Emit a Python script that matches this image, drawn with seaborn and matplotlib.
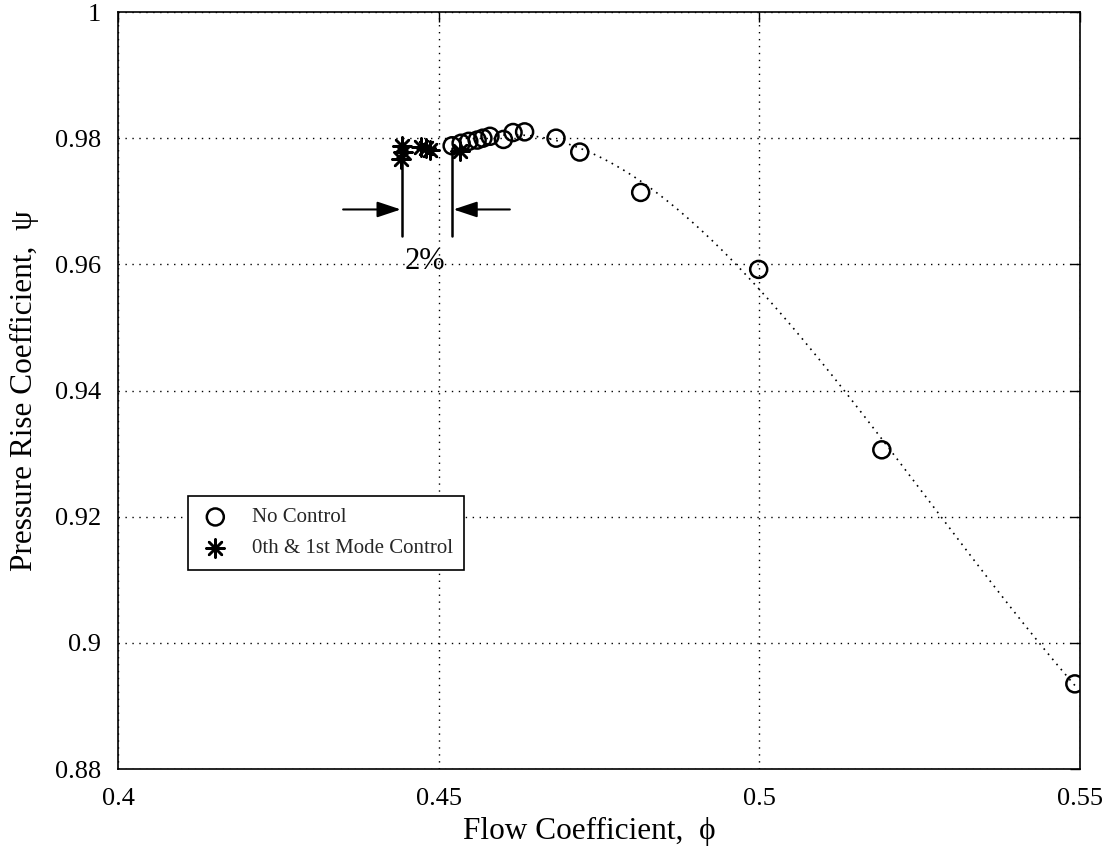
import numpy as np
import pandas as pd
import seaborn as sns
import matplotlib
matplotlib.use("Agg")
import matplotlib.pyplot as plt

# ---- data ----
nc_phi = [0.4521, 0.4535, 0.4547, 0.4560, 0.4569, 0.4580, 0.4601, 0.4616, 0.4634,
          0.4683, 0.4720, 0.4815, 0.4999, 0.5191, 0.5492]
nc_psi = [0.9788, 0.9792, 0.9795, 0.9797, 0.9800, 0.9803, 0.9798, 0.9809, 0.9810,
          0.9800, 0.9778, 0.9714, 0.9592, 0.9306, 0.8935]
mc_phi = [0.4443, 0.4445, 0.4442, 0.4473, 0.4480, 0.4487, 0.4533]
mc_psi = [0.9787, 0.9778, 0.9767, 0.9786, 0.9784, 0.9781, 0.9779]

sns.set_theme(style="white")
plt.rcParams['font.family'] = ['Liberation Serif', 'DejaVu Serif']

fig = plt.figure(figsize=(11.07, 8.58), dpi=100)
ax = fig.add_axes([0.1066, 0.1037, 0.8690, 0.8823])

df_nc = pd.DataFrame({"phi": nc_phi, "psi": nc_psi})
df_mc = pd.DataFrame({"phi": mc_phi, "psi": mc_psi})

coef = np.polyfit(nc_phi, nc_psi, 3)
xf = np.linspace(0.457, 0.5495, 200)
df_fit = pd.DataFrame({"phi": xf, "psi": np.polyval(coef, xf)})
sns.lineplot(data=df_fit, x="phi", y="psi", ax=ax, color="black",
             linestyle=(0, (1, 3)), linewidth=1.2, legend=False)

sns.scatterplot(data=df_nc, x="phi", y="psi", ax=ax, marker="o", s=150,
                facecolor="none", edgecolor="black", linewidth=1.8,
                label="No Control", zorder=3)
sns.scatterplot(data=df_mc, x="phi", y="psi", ax=ax, marker=(8, 2, 0), s=170,
                color="black", edgecolor="black", linewidth=1.8,
                label="0th & 1st Mode Control", zorder=3)

ax.set_xlim(0.4, 0.55)
ax.set_ylim(0.88, 1.0)
ax.set_xticks([0.4, 0.45, 0.5, 0.55])
ax.set_xticklabels(["0.4", "0.45", "0.5", "0.55"])
ax.set_yticks([0.88, 0.9, 0.92, 0.94, 0.96, 0.98, 1.0])
ax.set_yticklabels(["0.88", "0.9", "0.92", "0.94", "0.96", "0.98", "1"])
ax.tick_params(direction="in", length=7, width=1, top=True, right=True,
               labelsize=19, colors="black")
ax.tick_params(axis="x", pad=14)
ax.tick_params(axis="y", pad=12)
ax.grid(True, color="black", linestyle=(0, (1, 4)), linewidth=1.0)
for s in ax.spines.values():
    s.set_color("black")
    s.set_linewidth(1.2)

ax.set_xlabel("Flow Coefficient,  ϕ", fontsize=22.5, color="black")
ax.set_ylabel("Pressure Rise Coefficient,  ψ", fontsize=22.5, color="black")
ax.xaxis.set_label_coords(0.49, -0.064)
ax.yaxis.set_label_coords(-0.082, 0.5)

# 2% annotation
for xv in [0.4443, 0.4521]:
    ax.plot([xv, xv], [0.9785, 0.9645], color="black", linewidth=1.8)
ax.annotate("", xy=(0.4441, 0.9687), xytext=(0.4351, 0.9687),
            arrowprops=dict(arrowstyle="-|>,head_length=1.2,head_width=0.4",
                            color="black", lw=1.5, shrinkA=0, shrinkB=0))
ax.annotate("", xy=(0.4523, 0.9687), xytext=(0.4611, 0.9687),
            arrowprops=dict(arrowstyle="-|>,head_length=1.2,head_width=0.4",
                            color="black", lw=1.5, shrinkA=0, shrinkB=0))
ax.text(0.4479, 0.9605, "2%", fontsize=22, ha="center", va="center", color="black")

leg = ax.legend(loc="lower left", bbox_to_anchor=(0.073, 0.263), fontsize=15,
                frameon=True, fancybox=False, edgecolor="black", framealpha=1,
                borderpad=0.55, labelspacing=0.55, handletextpad=1.0,
                handlelength=1.5, borderaxespad=0)
leg.get_frame().set_linewidth(1.2)

fig.savefig("out.png", dpi=100)
